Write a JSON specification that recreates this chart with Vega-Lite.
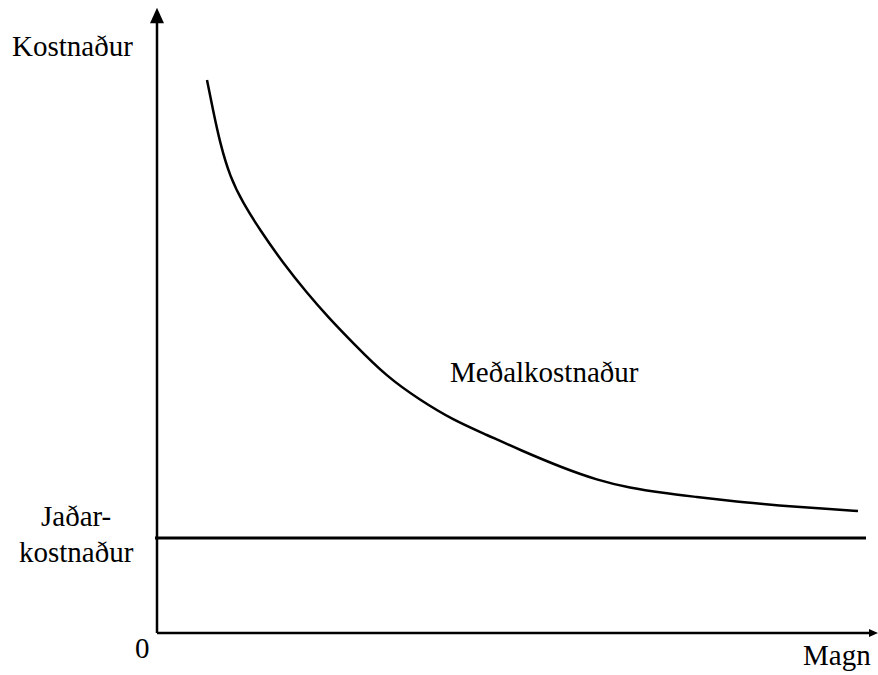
{
  "$schema": "https://vega.github.io/schema/vega-lite/v6.json",
  "description": "Average cost falls toward a flat marginal cost as quantity grows.",
  "width": 878,
  "height": 675,
  "padding": 0,
  "autosize": {"type": "fit", "contains": "padding"},
  "background": "white",
  "config": {"view": {"stroke": null}},
  "datasets": {
    "curve": [
      {"magn": 50, "cost": 553},
      {"magn": 56, "cost": 523},
      {"magn": 63, "cost": 490},
      {"magn": 73, "cost": 456},
      {"magn": 86, "cost": 430},
      {"magn": 103, "cost": 403},
      {"magn": 126, "cost": 370},
      {"magn": 150, "cost": 340},
      {"magn": 171, "cost": 316},
      {"magn": 196, "cost": 290},
      {"magn": 230, "cost": 256},
      {"magn": 263, "cost": 233},
      {"magn": 296, "cost": 213},
      {"magn": 330, "cost": 198},
      {"magn": 363, "cost": 183},
      {"magn": 406, "cost": 165},
      {"magn": 440, "cost": 153},
      {"magn": 473, "cost": 145},
      {"magn": 506, "cost": 140},
      {"magn": 540, "cost": 136},
      {"magn": 573, "cost": 132},
      {"magn": 606, "cost": 129},
      {"magn": 640, "cost": 126},
      {"magn": 673, "cost": 124},
      {"magn": 701, "cost": 122}
    ],
    "marginal": [{"from": -2, "to": 709, "cost": 95}],
    "yaxis": [{"magn": 0, "from": 0, "to": 612}],
    "xaxis": [{"cost": 0, "from": 0, "to": 714}],
    "yarrow": [{"magn": 0, "cost": 617.5}],
    "xarrow": [{"magn": 716.5, "cost": 0}],
    "labels": [
      {"label": "Kostnaður", "magn": -145, "cost": 577},
      {"label": "Meðalkostnaður", "magn": 293, "cost": 251},
      {"label": "Jaðar-", "magn": -116, "cost": 107},
      {"label": "kostnaður", "magn": -138, "cost": 71},
      {"label": "0", "magn": -22, "cost": -25},
      {"label": "Magn", "magn": 646, "cost": -32}
    ]
  },
  "layer": [
    {
      "data": {"name": "yaxis"},
      "mark": {"type": "rule", "strokeWidth": 2.5, "color": "black"},
      "encoding": {
        "x": {"field": "magn", "type": "quantitative", "axis": null, "scale": {"domain": [-157, 721], "nice": false, "zero": false}},
        "y": {"field": "from", "type": "quantitative", "axis": null, "scale": {"domain": [-42, 633], "nice": false, "zero": false}},
        "y2": {"field": "to"}
      }
    },
    {
      "data": {"name": "xaxis"},
      "mark": {"type": "rule", "strokeWidth": 2.5, "color": "black"},
      "encoding": {
        "y": {"field": "cost", "type": "quantitative", "axis": null},
        "x": {"field": "from", "type": "quantitative", "axis": null},
        "x2": {"field": "to"}
      }
    },
    {
      "data": {"name": "yarrow"},
      "mark": {"type": "point", "shape": "M0,-1L0.9,1L-0.9,1Z", "size": 240, "filled": true, "color": "black", "opacity": 1},
      "encoding": {
        "x": {"field": "magn", "type": "quantitative", "axis": null},
        "y": {"field": "cost", "type": "quantitative", "axis": null}
      }
    },
    {
      "data": {"name": "xarrow"},
      "mark": {"type": "point", "shape": "M1,0L-1,0.9L-1,-0.9Z", "size": 81, "filled": true, "color": "black", "opacity": 1},
      "encoding": {
        "x": {"field": "magn", "type": "quantitative", "axis": null},
        "y": {"field": "cost", "type": "quantitative", "axis": null}
      }
    },
    {
      "data": {"name": "marginal"},
      "mark": {"type": "rule", "strokeWidth": 3, "color": "black"},
      "encoding": {
        "y": {"field": "cost", "type": "quantitative", "axis": null},
        "x": {"field": "from", "type": "quantitative", "axis": null},
        "x2": {"field": "to"}
      }
    },
    {
      "data": {"name": "curve"},
      "mark": {"type": "line", "interpolate": "basis", "strokeWidth": 2.5, "color": "black"},
      "encoding": {
        "x": {"field": "magn", "type": "quantitative", "axis": null},
        "y": {"field": "cost", "type": "quantitative", "axis": null}
      }
    },
    {
      "data": {"name": "labels"},
      "mark": {"type": "text", "align": "left", "baseline": "alphabetic", "font": "Liberation Serif", "fontSize": 29, "color": "black"},
      "encoding": {
        "x": {"field": "magn", "type": "quantitative", "axis": null},
        "y": {"field": "cost", "type": "quantitative", "axis": null},
        "text": {"field": "label"}
      }
    }
  ]
}
